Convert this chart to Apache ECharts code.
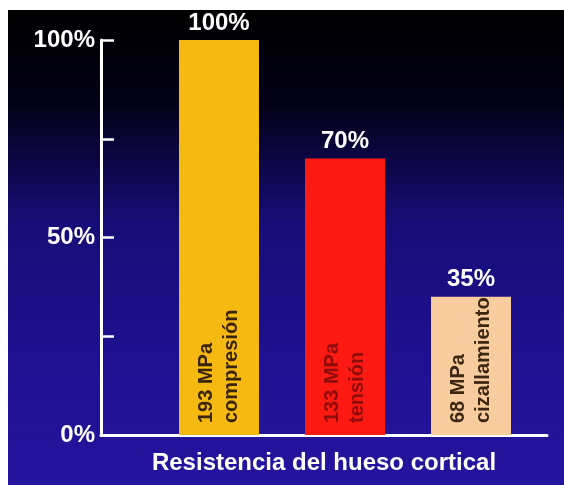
<!DOCTYPE html>
<html>
<head>
<meta charset="utf-8">
<script src="https://cdn.jsdelivr.net/npm/echarts@6/dist/echarts.min.js"></script>
<style>
  html, body { margin: 0; padding: 0; background: #fff; }
  #chart { position: absolute; left: 8px; top: 10px; width: 556px; height: 475px; }
</style>
</head>
<body>
<div id="chart"></div>
<script>
// Datos del gráfico
const categories = ['compresión', 'tensión', 'cizallamiento']
const strengthMPa = [193, 133, 68]
const relativePct = [100, 70, 35]
const yTicks = [0, 25, 50, 75, 100]
const yTickLabels = ['0%', '', '50%', '', '100%']

const barColors = ['#f6b912', '#fd1a12', '#f9cc9e']
const textColors = ['#3a2506', '#8e0c0c', '#3d2612']
const font = '"Liberation Sans", Arial, sans-serif'

const chart = echarts.init(document.getElementById('chart'))

chart.setOption({
  backgroundColor: new echarts.graphic.LinearGradient(0, 0, 0, 1, [
    { offset: 0, color: '#000000' },
    { offset: 0.2, color: '#030118' },
    { offset: 0.45, color: '#170d78' },
    { offset: 0.75, color: '#1f1192' },
    { offset: 1, color: '#25149e' }
  ]),
  animation: false,
  grid: [
    { left: 93, right: 17, top: 30, bottom: 50 },
    { left: 148, width: 378, top: 30, bottom: 50 }
  ],
  xAxis: [
    {
      gridIndex: 0,
      type: 'category',
      data: categories,
      name: 'Resistencia del hueso cortical',
      nameLocation: 'middle',
      nameGap: 16,
      nameTextStyle: { color: '#fff', fontSize: 24, fontWeight: 'bold', fontFamily: font },
      axisLine: { lineStyle: { color: '#fff', width: 3 } },
      axisTick: { show: false },
      axisLabel: { show: false }
    },
    { gridIndex: 1, type: 'category', data: categories, show: false }
  ],
  yAxis: [
    {
      gridIndex: 0,
      type: 'value',
      min: 0,
      max: 100,
      interval: 25,
      axisLine: { show: true, lineStyle: { color: '#fff', width: 3 } },
      axisTick: { show: true, inside: true, length: 13, lineStyle: { color: '#fff', width: 2.5 } },
      splitLine: { show: false },
      axisLabel: {
        color: '#fff',
        fontSize: 24,
        fontWeight: 'bold',
        fontFamily: font,
        margin: 6,
        formatter: v => yTickLabels[yTicks.indexOf(v)] ?? ''
      }
    },
    { gridIndex: 1, type: 'value', min: 0, max: 100, show: false }
  ],
  series: [
    {
      type: 'bar',
      xAxisIndex: 1,
      yAxisIndex: 1,
      barWidth: 80,
      data: relativePct.map((v, i) => ({ value: v, itemStyle: { color: barColors[i] } })),
      label: {
        show: true,
        position: 'top',
        distance: 5,
        formatter: '{c}%',
        color: '#fff',
        fontSize: 24,
        fontWeight: 'bold',
        fontFamily: font
      }
    },
    {
      type: 'bar',
      xAxisIndex: 1,
      yAxisIndex: 1,
      barWidth: 80,
      barGap: '-100%',
      z: 3,
      itemStyle: { color: 'transparent' },
      data: relativePct.map((v, i) => ({
        value: v,
        label: { color: textColors[i] }
      })),
      label: {
        show: true,
        position: 'insideBottom',
        distance: 12,
        rotate: 90,
        align: 'left',
        verticalAlign: 'middle',
        fontSize: 20,
        fontWeight: 'bold',
        fontFamily: font,
        lineHeight: 25,
        formatter: p => strengthMPa[p.dataIndex] + ' MPa\n' + categories[p.dataIndex]
      }
    }
  ]
})

window.addEventListener('resize', () => chart.resize())
</script>
</body>
</html>
